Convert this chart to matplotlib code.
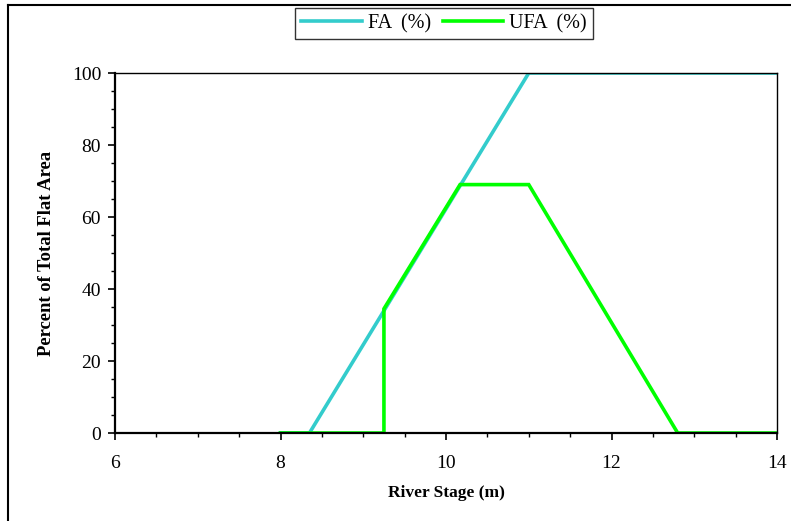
import matplotlib
matplotlib.use("Agg")
import matplotlib.pyplot as plt
from matplotlib.lines import Line2D
from matplotlib.ticker import MultipleLocator

# River stage (m) vs. percent of total flat area
fa_stage = [8.0, 8.35, 11.0, 14.0]
fa_pct = [0, 0, 100, 100]

ufa_stage = [8.0, 9.25, 9.25, 10.17, 11.0, 12.8, 14.0]
ufa_pct = [0, 0, 34.5, 69, 69, 0, 0]

x_ticks = [6, 8, 10, 12, 14]
y_ticks = [0, 20, 40, 60, 80, 100]

plt.rcParams['font.family'] = ['Liberation Serif', 'DejaVu Serif']

fig = plt.figure(figsize=(7.91, 5.21), dpi=100)
ax = fig.add_axes([115 / 791, 1 - 433 / 521, (777 - 115) / 791, (433 - 73) / 521])

ax.plot(fa_stage, fa_pct, color='#33CCCC', lw=2.6, label='FA  (%)', solid_joinstyle='miter')
ax.plot(ufa_stage, ufa_pct, color='#00FF00', lw=2.6, label='UFA  (%)', solid_joinstyle='miter')

ax.set_xlim(6, 14)
ax.set_ylim(0, 100)
ax.set_xticks(x_ticks)
ax.set_yticks(y_ticks)
ax.xaxis.set_minor_locator(MultipleLocator(0.5))
ax.yaxis.set_minor_locator(MultipleLocator(5))
ax.tick_params(which='major', direction='out', length=5, width=1.2, labelsize=14, pad=11)
ax.tick_params(which='minor', direction='out', length=3, width=1.0)
ax.tick_params(axis='y', pad=5)

for side in ('left', 'bottom'):
    ax.spines[side].set_linewidth(1.6)
for side in ('top', 'right'):
    ax.spines[side].set_linewidth(1.0)

ax.set_xlabel('River Stage (m)', fontsize=12.5, fontweight='bold', labelpad=9)
ax.set_ylabel('Percent of Total Flat Area', fontsize=13.4, fontweight='bold', labelpad=12)

leg = fig.legend(loc='center', bbox_to_anchor=(444 / 791, 1 - 23.5 / 521), ncol=2,
                 fontsize=14.5, frameon=True, fancybox=False, edgecolor='black',
                 handlelength=3.0, handletextpad=0.3, columnspacing=0.6,
                 borderpad=0.3)
leg.get_frame().set_linewidth(1.0)

# outer frame lines along top and left edges
fig.add_artist(Line2D([8 / 791, 1.0], [1 - 5 / 521, 1 - 5 / 521], color='black', lw=1.5,
                      transform=fig.transFigure))
fig.add_artist(Line2D([8 / 791, 8 / 791], [0.0, 1 - 5 / 521], color='black', lw=1.5,
                      transform=fig.transFigure))

fig.savefig('out.png', dpi=100)
